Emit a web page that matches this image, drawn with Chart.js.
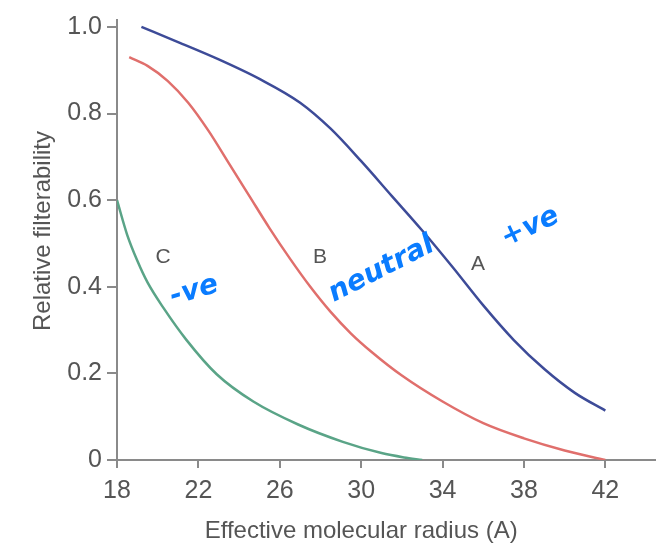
<!DOCTYPE html>
<html>
<head>
<meta charset="utf-8">
<script src="https://cdn.jsdelivr.net/npm/chart.js@4.4.1/dist/chart.umd.min.js"></script>
<style>
	html, body { margin: 0; padding: 0; background: #fff; }
	#wrap { width: 667px; height: 555px; }
</style>
</head>
<body>
<div id="wrap"><canvas id="myChart"></canvas></div>
<script>
// curve A (+ve)
const radiusA = [19.2, 21, 23, 25, 27, 28.5, 30, 31.5, 33, 34.5, 36, 37.5, 39, 40.5, 42];
const filterA = [1.0, 0.965, 0.925, 0.88, 0.825, 0.765, 0.69, 0.61, 0.53, 0.445, 0.357, 0.277, 0.21, 0.155, 0.114];
// curve B (neutral)
const radiusB = [18.6, 19.5, 20.5, 21.5, 22.5, 23.5, 24.5, 25.5, 26.5, 27.5, 28.5, 29.5, 30.5, 32, 34, 36, 38, 40, 42];
const filterB = [0.93, 0.91, 0.875, 0.825, 0.76, 0.685, 0.61, 0.535, 0.465, 0.4, 0.342, 0.292, 0.25, 0.195, 0.135, 0.085, 0.05, 0.022, 0];
// curve C (-ve)
const radiusC = [18, 18.5, 19, 19.5, 20.3, 21.4, 22.9, 24.7, 26.9, 29.1, 31, 32.1, 33];
const filterC = [0.6, 0.52, 0.46, 0.41, 0.35, 0.278, 0.198, 0.135, 0.082, 0.042, 0.016, 0.006, 0];

const xTicks = [18, 22, 26, 30, 34, 38, 42];
const yTicks = [0, 0.2, 0.4, 0.6, 0.8, 1.0];

const curveLabels = [
	{ text: "C", x: 20.26, y: 0.468 },
	{ text: "B", x: 27.98, y: 0.468 },
	{ text: "A", x: 35.74, y: 0.452 },
];
const notes = [
	{ text: "-ve", x: 21.8, y: 0.39, angle: -16 },
	{ text: "neutral", x: 31.0, y: 0.44, angle: -27 },
	{ text: "+ve", x: 38.3, y: 0.537, angle: -25 },
];

const toPoints = function (xs, ys) {
	return xs.map(function (x, i) {
		return { x: x, y: ys[i] };
	});
};

const axisColor = "#8a8a8a";
const textColor = "#555";
const fontFamily = "'Liberation Sans', Arial, sans-serif";

const textPlugin = {
	id: "textPlugin",
	afterDraw(chart) {
		const ctx = chart.ctx;
		const xs = chart.scales.x;
		const ys = chart.scales.y;
		ctx.save();
		// axis titles
		ctx.fillStyle = textColor;
		ctx.font = "24px " + fontFamily;
		ctx.textAlign = "center";
		ctx.textBaseline = "middle";
		ctx.fillText("Effective molecular radius (A)", xs.getPixelForValue(30), 531);
		ctx.save();
		ctx.translate(43, 231);
		ctx.rotate(-Math.PI / 2);
		ctx.fillText("Relative filterability", 0, 0);
		ctx.restore();
		// curve letters
		ctx.font = "21px " + fontFamily;
		curveLabels.forEach(function (l) {
			ctx.fillText(l.text, xs.getPixelForValue(l.x), ys.getPixelForValue(l.y));
		});
		// handwritten notes
		ctx.fillStyle = "#0a7cff";
		ctx.font = "bold italic 28px 'DejaVu Sans', sans-serif";
		notes.forEach(function (n) {
			ctx.save();
			ctx.translate(xs.getPixelForValue(n.x), ys.getPixelForValue(n.y));
			ctx.rotate((n.angle * Math.PI) / 180);
			ctx.fillText(n.text, 0, 0);
			ctx.restore();
		});
		ctx.restore();
	},
};

const lineSet = function (label, xs, ys, color) {
	return {
		label: label,
		data: toPoints(xs, ys),
		borderColor: color,
		borderWidth: 2.5,
		pointRadius: 0,
		fill: false,
		cubicInterpolationMode: "monotone",
	};
};

const ctx = document.getElementById("myChart").getContext("2d");
const myChart = new Chart(ctx, {
	type: "line",
	data: {
		datasets: [
			lineSet("A", radiusA, filterA, "#3d4b98"),
			lineSet("B", radiusB, filterB, "#e06f6c"),
			lineSet("C", radiusC, filterC, "#5aa487"),
		],
	},
	options: {
		responsive: true,
		maintainAspectRatio: false,
		animation: false,
		layout: { padding: { top: 15, right: 12, left: 0, bottom: 0 } },
		plugins: {
			legend: { display: false },
			tooltip: { enabled: false },
		},
		scales: {
			x: {
				type: "linear",
				min: 18,
				max: 44.44,
				afterBuildTicks(scale) {
					scale.ticks = xTicks.map(function (v) {
						return { value: v };
					});
				},
				afterFit(scale) {
					scale.height = 95;
				},
				grid: { drawOnChartArea: false, drawTicks: true, tickLength: 8, color: axisColor, lineWidth: 2 },
				border: { display: true, color: axisColor, width: 2 },
				ticks: {
					color: textColor,
					font: { family: fontFamily, size: 25 },
					padding: 8,
					maxRotation: 0,
				},
			},
			y: {
				min: 0,
				max: 1.016,
				afterBuildTicks(scale) {
					scale.ticks = yTicks.map(function (v) {
						return { value: v };
					});
				},
				afterFit(scale) {
					scale.width = 117;
				},
				grid: { drawOnChartArea: false, drawTicks: true, tickLength: 10, color: axisColor, lineWidth: 2 },
				border: { display: true, color: axisColor, width: 2 },
				ticks: {
					color: textColor,
					font: { family: fontFamily, size: 25 },
					padding: 5,
					callback: function (v) {
						return v === 0 ? "0" : v.toFixed(1);
					},
				},
			},
		},
	},
	plugins: [textPlugin],
});
</script>
</body>
</html>
